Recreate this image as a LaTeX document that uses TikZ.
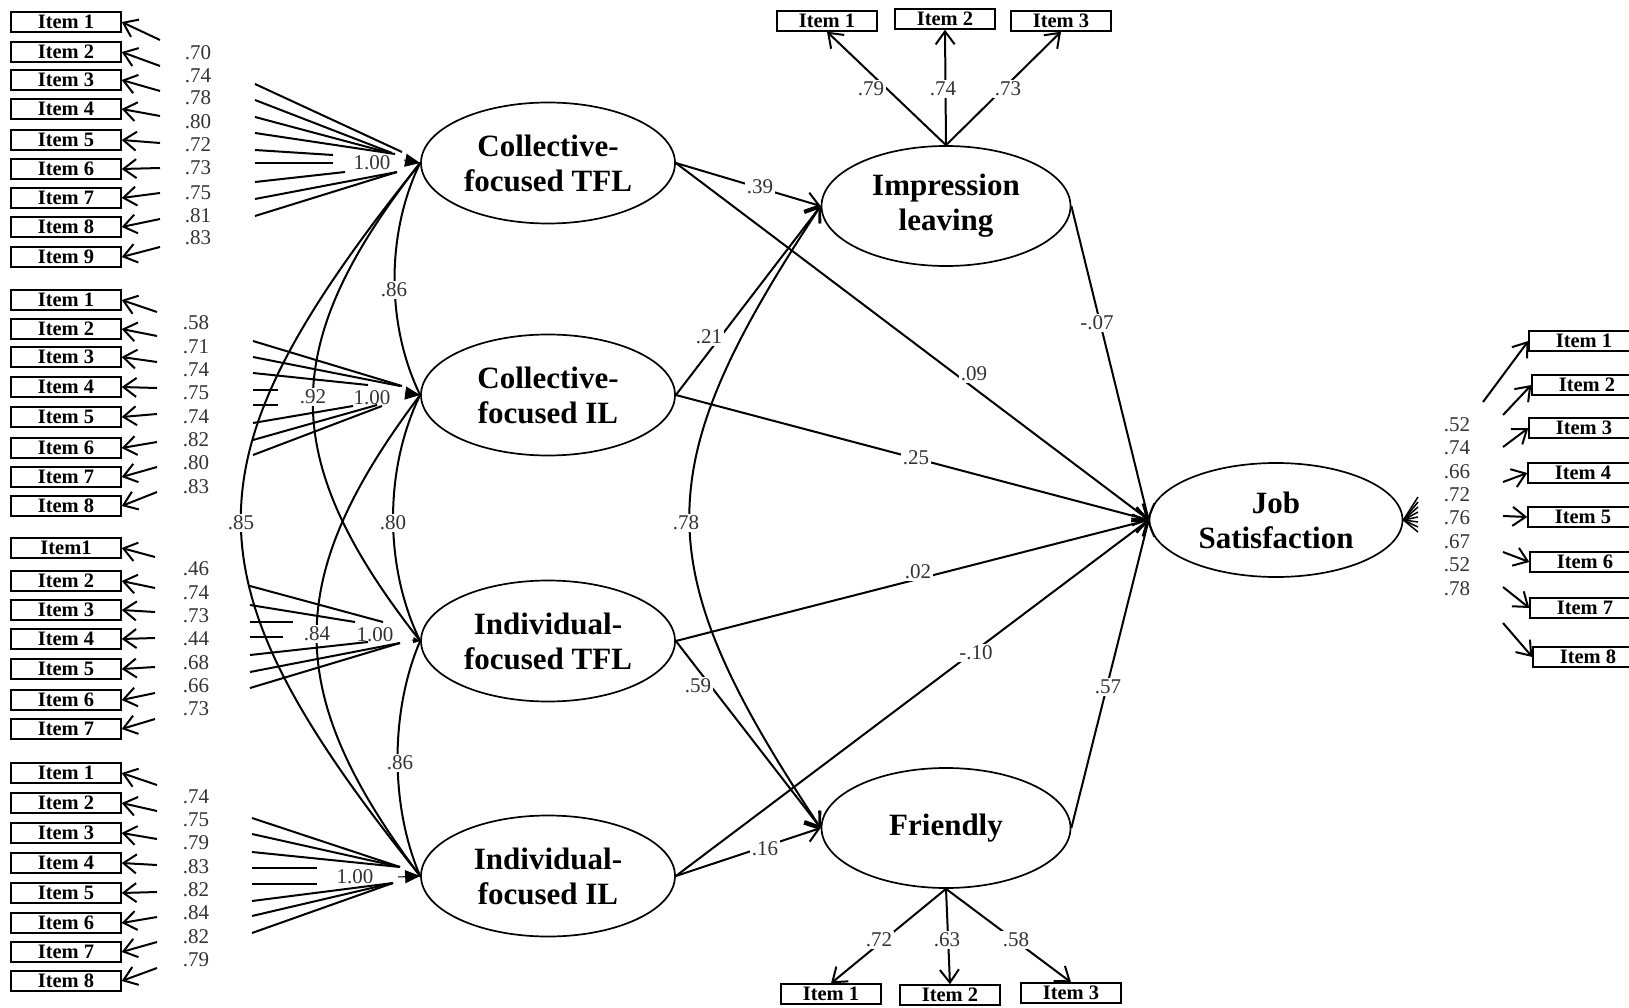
\documentclass[tikz,border=0pt]{standalone}
\usepackage{fontspec}
\setmainfont{Liberation Serif}
\usetikzlibrary{shapes.geometric,arrows.meta}

\begin{document}
\begin{tikzpicture}[x=1pt,y=-1pt,
  latent/.style={ellipse, draw, line width=1.7pt, minimum width=254pt, minimum height=121pt,
    inner sep=0pt, align=center, font=\fontsize{31}{35}\selectfont\bfseries},
  item/.style={rectangle, draw, line width=1.4pt, minimum width=110pt, minimum height=20pt,
    inner sep=0pt, font=\fontsize{20.5}{20}\selectfont\bfseries},
  itemsm/.style={item, minimum width=100pt},
  arr/.style={line width=2pt, -{Straight Barb[length=13pt,width=19pt,line width=2pt]}},
  dbl/.style={line width=2pt, {Straight Barb[length=13pt,width=19pt,line width=2pt]}-{Straight Barb[length=13pt,width=19pt,line width=2pt]}},
  cov/.style={line width=2pt},
  fan/.style={line width=2pt},
  head/.style={line width=1pt, -{Triangle[length=15pt,width=13pt]}},
  lbl/.style={fill=white, inner sep=2pt, font=\fontsize{21}{21}\selectfont, text=black!80},
  num/.style={inner sep=0pt, font=\fontsize{21}{21}\selectfont, text=black!80},
]
\useasboundingbox (0,0) rectangle (1629,1008);
\clip (0,0) rectangle (1629,1008);
\fill[white] (0,0) rectangle (1629,1008);

% latent variables
\node[latent] (CT) at (548,163) {Collective-\\focused TFL};
\node[latent] (CI) at (548,395) {Collective-\\focused IL};
\node[latent] (IT) at (548,641) {Individual-\\focused TFL};
\node[latent] (II) at (548,876) {Individual-\\focused IL};
\node[latent, minimum width=249pt, minimum height=120pt] (IMP) at (946,206) {Impression\\leaving};
\node[latent, minimum width=249pt, minimum height=120pt] (FR) at (946,828) {Friendly};
\node[latent, minimum width=253pt, minimum height=114pt] (JS) at (1276,520) {Job\\Satisfaction};

% indicators of Collective-focused TFL
\foreach \n/\y in {1/22,2/52,3/80,4/109,5/140,6/169,7/198,8/227,9/257}
  \node[item] (a\n) at (66,\y) {Item \n};
\foreach \n/\y in {1/40,2/66,3/91,4/116,5/143,6/168,7/193,8/219,9/247}
  \draw[arr] (160,\y) -- (a\n.east);
\foreach \v/\y in {.70/53,.74/76,.78/98,.80/122,.72/145,.73/168,.75/193,.81/216,.83/238}
  \node[num] at (198,\y) {\v};

% indicators of Collective-focused IL
\foreach \n/\y in {1/300,2/329,3/357,4/387,5/417,6/448,7/477,8/506}
  \node[item] (b\n) at (66,\y) {Item \n};
\foreach \n/\y in {1/312,2/336,3/362,4/388,5/414,6/442,7/467,8/492}
  \draw[arr] (157,\y) -- (b\n.east);
\foreach \v/\y in {.58/323,.71/347,.74/370,.75/393,.74/417,.82/440,.80/463,.83/487}
  \node[num] at (196,\y) {\v};

% indicators of Individual-focused TFL
\node[item] (c1) at (66,548) {Item1};
\foreach \n/\y in {2/581,3/610,4/639,5/669,6/700,7/729}
  \node[item] (c\n) at (66,\y) {Item \n};
\foreach \n/\y in {1/557,2/588,3/612,4/638,5/667,6/693,7/719}
  \draw[arr] (155,\y) -- (c\n.east);
\foreach \v/\y in {.46/569,.74/593,.73/616,.44/639,.68/663,.66/686,.73/709}
  \node[num] at (196,\y) {\v};

% indicators of Individual-focused IL
\foreach \n/\y in {1/773,2/803,3/833,4/863,5/893,6/923,7/952,8/981}
  \node[item] (d\n) at (66,\y) {Item \n};
\foreach \n/\y in {1/785,2/811,3/839,4/865,5/892,6/917,7/942,8/968}
  \draw[arr] (157,\y) -- (d\n.east);
\foreach \v/\y in {.74/797,.75/820,.79/843,.83/867,.82/890,.84/913,.82/937,.79/960}
  \node[num] at (196,\y) {\v};

% loading fans at the exogenous factors
\foreach \ya/\xb/\yb in {84/402/152,100/392/153,117/390/153,133/395/154,150/333/155,163/333/163,182/345/172,199/397/172,216/397/172}
  \draw[fan] (255,\ya) -- (\xb,\yb);
\coordinate (ctf) at (404,160);
\draw[head] (ctf) -- (CT.west);
\node[num] at (372,163) {1.00};

\foreach \ya/\xb/\yb in {341/402/386,357/400/386,373/368/385,390/278/390,405/278/405,423/353/406,440/377/405,455/382/406}
  \draw[fan] (253,\ya) -- (\xb,\yb);
\coordinate (cif) at (405,393);
\draw[head] (cif) -- (CI.west);
\node[num] at (372,398) {1.00};

\foreach \ya/\xb/\yb in {586/383/622,605/355/622,622/293/622,637/283/637,655/368/642,672/400/643,688/400/643}
  \draw[fan] (250,\ya) -- (\xb,\yb);
\coordinate (itf) at (412,640);
\draw[line width=1pt, -{Triangle[length=7pt,width=6pt]}] (itf) -- (IT.west);
\node[num] at (375,635) {1.00};

\foreach \ya/\xb/\yb in {818/400/867,834/400/867,852/400/867,868/317/868,884/317/884,901/393/883,916/393/883,933/393/883}
  \draw[fan] (252,\ya) -- (\xb,\yb);
\coordinate (iif) at (398,877);
\draw[head] (iif) -- (II.west);
\node[num] at (355,877) {1.00};

% correlations among the exogenous factors
\draw[cov] (CT.west) .. controls (386,233) and (386,325) .. (CI.west);
\draw[cov] (CI.west) .. controls (384,469) and (384,567) .. (IT.west);
\draw[cov] (IT.west) .. controls (390,711) and (390,806) .. (II.west);
\draw[cov] (CT.west) .. controls (277,345) and (277,459) .. (IT.west);
\draw[cov] (CI.west) .. controls (282,578) and (282,693) .. (II.west);
\draw[cov] (CT.west) .. controls (181,462) and (181,577) .. (II.west);
\node[lbl] at (394,290) {.86};
\node[lbl] at (393,523) {.80};
\node[lbl] at (400,763) {.86};
\node[lbl] at (313,397) {.92};
\node[lbl] at (317,634) {.84};
\node[lbl] at (241,523) {.85};

% structural paths
\draw[arr] (CT.east) -- (IMP.west);
\draw[arr] (CT.east) -- (JS.west);
\draw[arr] (CI.east) -- (IMP.west);
\draw[arr] (CI.east) -- (JS.west);
\draw[arr] (IT.east) -- (JS.west);
\draw[arr] (IT.east) -- (FR.west);
\draw[arr] (II.east) -- (JS.west);
\draw[arr] (II.east) -- (FR.west);
\draw[arr] (IMP.east) -- (JS.west);
\draw[arr] (FR.east) -- (JS.west);
\draw[dbl] (IMP.west) .. controls (646,470) and (646,565) .. (FR.west);
\node[lbl] at (760,187) {.39};
\node[lbl] at (974,374) {.09};
\node[lbl] at (709,337) {.21};
\node[lbl] at (916,458) {.25};
\node[lbl] at (918,572) {.02};
\node[lbl] at (698,686) {.59};
\node[lbl] at (976,653) {-.10};
\node[lbl] at (765,849) {.16};
\node[lbl] at (1097,323) {-.07};
\node[lbl] at (1108,687) {.57};
\node[lbl] at (686,523) {.78};

% indicators of Impression leaving
\node[itemsm] (t1) at (827,21) {Item 1};
\node[itemsm] (t2) at (945,19) {Item 2};
\node[itemsm] (t3) at (1061,21) {Item 3};
\draw[arr] (IMP.north) -- (t1.south);
\draw[arr] (IMP.north) -- (t2.south);
\draw[arr] (IMP.north) -- (t3.south);
\node[lbl] at (871,89) {.79};
\node[lbl] at (943,89) {.74};
\node[lbl] at (1008,89) {.73};

% indicators of Friendly
\node[itemsm] (f1) at (831,994) {Item 1};
\node[itemsm] (f2) at (950,995) {Item 2};
\node[itemsm] (f3) at (1071,993) {Item 3};
\draw[arr] (FR.south) -- (f1.north);
\draw[arr] (FR.south) -- (f2.north);
\draw[arr] (FR.south) -- (f3.north);
\node[lbl] at (879,940) {.72};
\node[lbl] at (947,940) {.63};
\node[lbl] at (1016,940) {.58};

% indicators of Job Satisfaction
\foreach \n/\x/\y in {1/1584/341,2/1587/385,3/1584/428,4/1583/473,5/1583/517,6/1585/562,7/1585/608,8/1588/657}
  \node[item] (j\n) at (\x,\y) {Item \n};
\foreach \n/\x/\y in {1/1483/402,2/1503/415,3/1503/447,4/1503/482,5/1503/516,6/1503/552,7/1503/587,8/1503/623}
  \draw[arr] (\x,\y) -- (j\n.west);
\foreach \v/\y in {.52/425,.74/448,.66/472,.72/495,.76/518,.67/542,.52/565,.78/589}
  \node[num] at (1457,\y) {\v};
\foreach \y in {497,502,507,512,517,522,527,532}
  \draw[line width=1.5pt] (JS.east) -- (1418,\y);
\end{tikzpicture}
\end{document}
